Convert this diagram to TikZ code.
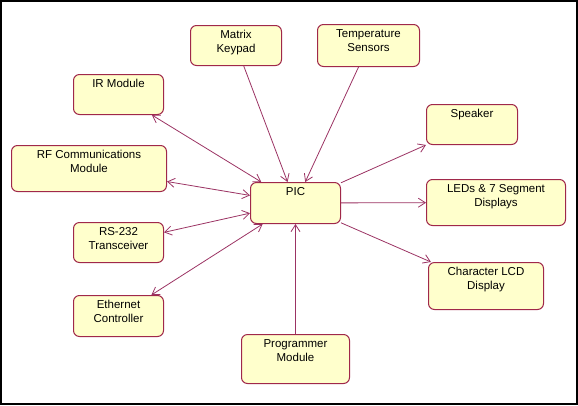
\documentclass[tikz,border=0pt]{standalone}
\usepackage{fontspec}
\setmainfont{Liberation Sans}
\usepackage{xcolor}
\usepackage{tikz}
\usetikzlibrary{arrows.meta,positioning}
\definecolor{boxline}{HTML}{A0284A}
\definecolor{boxfill}{HTML}{FFFFCC}
\definecolor{linkline}{HTML}{9B3363}
\tikzset{
  blockbox/.style={draw=boxline,fill=boxfill,line width=1pt,rounded corners=6pt,
    anchor=north west,align=center,inner xsep=0pt,inner ysep=3pt,
    text height=10pt,text depth=24pt,font=\fontsize{11.5}{14}\selectfont},
  twoline/.style={text height=24pt,text depth=#1},
  link/.style={linkline,line width=0.8pt}
}

\begin{document}
\begin{tikzpicture}[x=1pt,y=-1pt,>={Straight Barb[length=7pt,width=9pt]}]
  \useasboundingbox (0,0) rectangle (578,405);
  \draw[black,line width=2pt] (1,1) rectangle (577,404);

  \node[blockbox,twoline=10pt,minimum width=91pt] (keypad) at (190,25) {Matrix\\Keypad};
  \node[blockbox,twoline=12pt,minimum width=102pt] (temp) at (317,24) {Temperature\\Sensors};
  \node[blockbox,minimum width=90pt] (ir) at (73,74) {IR Module};
  \node[blockbox,twoline=16pt,minimum width=155pt] (rf) at (11,145) {RF Communications\\Module};
  \node[blockbox,text depth=25pt,minimum width=90pt] (pic) at (250,182) {PIC};
  \node[blockbox,minimum width=91pt] (speaker) at (426,104) {Speaker};
  \node[blockbox,twoline=16pt,minimum width=139pt] (leds) at (426,179) {LEDs \& 7 Segment\\Displays};
  \node[blockbox,twoline=17pt,minimum width=115pt] (lcd) at (428,262) {Character LCD\\Display};
  \node[blockbox,twoline=10pt,minimum width=90pt] (rs) at (73,222) {RS-232\\Transceiver};
  \node[blockbox,twoline=11pt,minimum width=90pt] (eth) at (73,295) {Ethernet\\Controller};
  \node[blockbox,twoline=19pt,minimum width=108pt] (prog) at (241,334) {Programmer\\Module};

  % inputs
  \draw[link,->] (keypad) -- (pic);
  \draw[link,->] (temp) -- (pic);
  \draw[link,->] (prog) -- (pic);
  % two way links
  \draw[link,<->] (ir) -- (pic);
  \draw[link,<->] (rf) -- (pic);
  \draw[link,<->] (rs) -- (pic);
  \draw[link,<->] (eth) -- (pic);
  % outputs
  \draw[link,->] (pic) -- (speaker);
  \draw[link,->] (pic) -- (leds);
  \draw[link,->] (pic) -- (lcd);
\end{tikzpicture}
\end{document}
